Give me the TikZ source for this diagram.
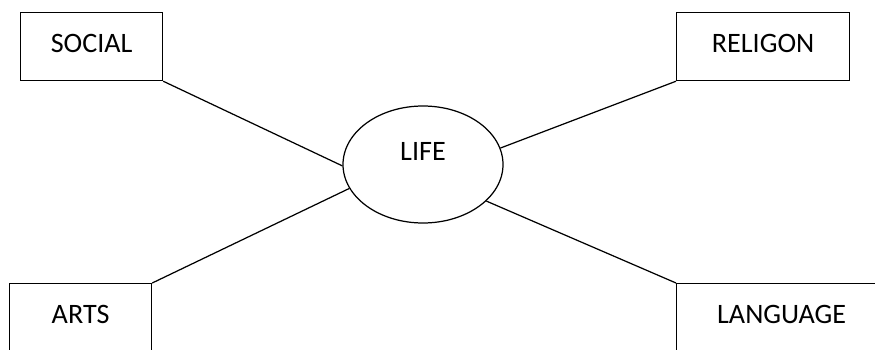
\documentclass[tikz,border=0pt]{standalone}
\usepackage{fontspec}
\setmainfont{Carlito}
\usetikzlibrary{positioning,shapes.geometric}

\begin{document}
\begin{tikzpicture}[
  topic/.style={draw, line width=0.7pt, inner sep=0pt, font=\fontsize{16}{19}\selectfont,
                text height=0.8cm, text depth=0.56cm},
  cut/.style={topic, text depth=1.2cm},
  hub/.style={draw, ellipse, line width=0.7pt, inner sep=0pt,
              minimum width=3.2cm, minimum height=2.34cm,
              font=\fontsize{16}{19}\selectfont, text height=0.36cm, text depth=0.54cm},
  link/.style={line width=0.7pt},
]
\clip (0,0) rectangle (17.5,6.98);

% Centre
\node[hub] (life) at (8.46,3.69) {LIFE};

% Top row
\node[topic, minimum width=2.84cm, anchor=north west] (social) at (0.4,6.74) {SOCIAL};
\node[topic, minimum width=3.46cm, anchor=north west] (religon) at (13.52,6.74) {RELIGON};

% Bottom row (cut off at the lower edge)
\node[cut, minimum width=2.84cm, anchor=north west] (arts) at (0.18,1.32) {ARTS};
\node[cut, minimum width=4.2cm, anchor=north west] (language) at (13.52,1.32) {LANGUAGE};

% Spokes
\draw[link] (social.south east) -- (life.181);
\draw[link] (arts.north east) -- (life.198);
\draw[link] (religon.south west) -- (life.12);
\draw[link] (language.north west) -- (life.330);
\end{tikzpicture}
\end{document}
